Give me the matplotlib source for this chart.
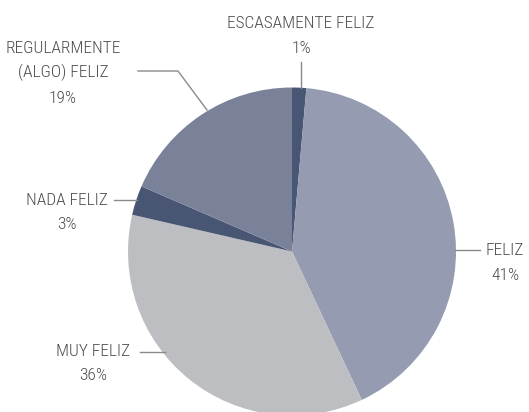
import matplotlib
matplotlib.use("Agg")
import matplotlib.pyplot as plt
from matplotlib import font_manager

categories = ["ESCASAMENTE FELIZ", "FELIZ", "MUY FELIZ", "NADA FELIZ", "REGULARMENTE\n(ALGO) FELIZ"]
values = [1.4, 41.6, 35.6, 2.9, 18.5]
pct_labels = ["1%", "41%", "36%", "3%", "19%"]
colors = ["#485673", "#959bb0", "#bdbec2", "#485673", "#7a8299"]

names = {f.name for f in font_manager.fontManager.ttflist}
family = "DejaVu Sans"
for cand in ["Liberation Sans Narrow", "DejaVu Sans Condensed", "Roboto Condensed", "Open Sans Condensed", "Noto Sans Condensed"]:
    if cand in names:
        family = cand
        break

W, H = 529, 412
fig = plt.figure(figsize=(W / 100, H / 100), dpi=100)
ax = fig.add_axes([0, 0, 1, 1])
cx, cy, r = 292, H - 251.5, 164
ax.pie(values, colors=colors, startangle=90, counterclock=False,
       center=(cx, cy), radius=r, wedgeprops=dict(linewidth=0))
ax.set_xlim(0, W)
ax.set_ylim(0, H)
ax.set_aspect("equal")
ax.axis("off")

tc = "#4d4d4d"
lc = "#8a8a8a"
fs = 12.5
def Y(y):
    return H - y

# leader lines (image coords)
ax.plot([301, 301], [Y(88), Y(62)], color=lc, lw=1)
ax.plot([207, 178, 138], [Y(110), Y(71), Y(71)], color=lc, lw=1)
ax.plot([114, 137], [Y(200), Y(200)], color=lc, lw=1)
ax.plot([455, 480], [Y(250), Y(250)], color=lc, lw=1)
ax.plot([140, 165], [Y(352), Y(352)], color=lc, lw=1)

kw = dict(color=tc, fontsize=fs, family=family, weight="light", va="center")
ax.text(301, Y(23), categories[0], ha="center", **kw)
ax.text(301, Y(48), pct_labels[0], ha="center", **kw)
ax.text(63, Y(61), categories[4], ha="center", linespacing=1.6, **kw)
ax.text(63, Y(98), pct_labels[4], ha="center", **kw)
ax.text(67, Y(200), categories[3], ha="center", **kw)
ax.text(67, Y(224), pct_labels[3], ha="center", **kw)
ax.text(505, Y(250), categories[1], ha="center", **kw)
ax.text(505, Y(276), pct_labels[1], ha="center", **kw)
ax.text(93, Y(351), categories[2], ha="center", **kw)
ax.text(93, Y(376), pct_labels[2], ha="center", **kw)

fig.savefig("out.png", dpi=100)
